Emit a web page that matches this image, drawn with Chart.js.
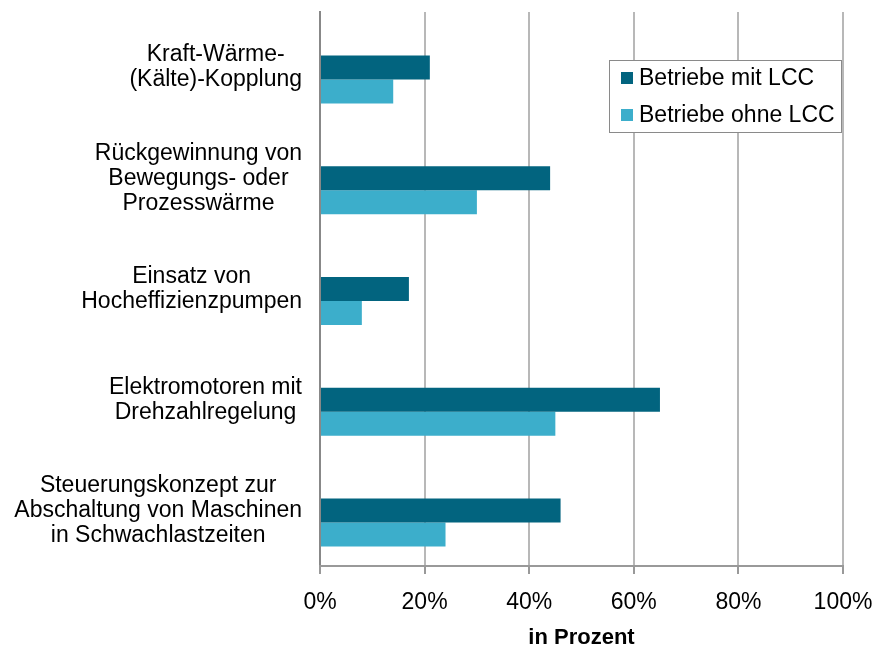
<!DOCTYPE html>
<html>
<head>
<meta charset="utf-8">
<script src="https://cdn.jsdelivr.net/npm/chart.js@4/dist/chart.umd.min.js"></script>
<style>
  html, body { margin: 0; padding: 0; background: #fff; }
  #wrap { width: 874px; height: 649px; }
</style>
</head>
<body>
<div id="wrap"><canvas id="c" width="874" height="649"></canvas></div>
<script>
// Kategorien (von oben nach unten), mehrzeilig wie im Original
const categories = [
  ["Kraft-Wärme-", "(Kälte)-Kopplung"],
  ["Rückgewinnung von", "Bewegungs- oder", "Prozesswärme"],
  ["Einsatz von", "Hocheffizienzpumpen"],
  ["Elektromotoren mit", "Drehzahlregelung"],
  ["Steuerungskonzept zur", "Abschaltung von Maschinen", "in Schwachlastzeiten"]
];
const seriesNames = ["Betriebe mit LCC", "Betriebe ohne LCC"];
const mitLCC = [21, 44, 17, 65, 46];
const ohneLCC = [14, 30, 8, 45, 24];
const xMin = 0, xMax = 100, xStep = 20;
const axisTitle = "in Prozent";

const FONT = "'Liberation Sans', Arial, sans-serif";
const darkBlue = "#02647f";
const lightBlue = "#3caecb";

// Kategorie-Beschriftungen: jede Zeile zentriert im Block, Block rechtsbündig
const catLabels = {
  id: "catLabels",
  afterDraw(chart) {
    const ctx = chart.ctx;
    const y = chart.scales.y;
    const rightEdge = chart.chartArea.left - 18;
    const lh = 25;
    ctx.save();
    ctx.font = "23px " + FONT;
    ctx.fillStyle = "#000";
    ctx.textBaseline = "middle";
    ctx.textAlign = "center";
    categories.forEach((lines, i) => {
      const cy = y.getPixelForValue(i);
      let maxW = 0;
      lines.forEach(l => { maxW = Math.max(maxW, ctx.measureText(l).width); });
      const cx = rightEdge - maxW / 2;
      lines.forEach((l, j) => {
        ctx.fillText(l, cx, cy + (j - (lines.length - 1) / 2) * lh);
      });
    });
    ctx.restore();
  }
};

// Legende im Diagrammbereich mit Rahmen
const boxLegend = {
  id: "boxLegend",
  afterDraw(chart) {
    const ctx = chart.ctx;
    const a = chart.chartArea;
    const bx = 609, by = 60, bw = a.right - 2 - bx, bh = 72;
    ctx.save();
    ctx.fillStyle = "#fff";
    ctx.fillRect(bx, by, bw, bh);
    ctx.strokeStyle = "#8a8a8a";
    ctx.lineWidth = 1;
    ctx.strokeRect(bx + 0.5, by + 0.5, bw, bh);
    ctx.font = "23px " + FONT;
    ctx.textBaseline = "middle";
    ctx.textAlign = "left";
    chart.data.datasets.filter(ds => ds.label).forEach((ds, i) => {
      const cy = by + 18 + i * 37;
      ctx.fillStyle = ds.backgroundColor;
      ctx.fillRect(bx + 12, cy - 6, 12, 12);
      ctx.fillStyle = "#000";
      ctx.fillText(ds.label, bx + 30, cy + 1);
    });
    ctx.restore();
  }
};

new Chart(document.getElementById("c"), {
  type: "bar",
  data: {
    labels: categories.map(l => l.join(" ")),
    datasets: [
      // leerer Platzhalter, damit das Balkenpaar wie im Original etwas tiefer sitzt
      { label: "", data: [], backgroundColor: "rgba(0,0,0,0)" },
      { label: seriesNames[0], data: mitLCC, backgroundColor: darkBlue },
      { label: seriesNames[1], data: ohneLCC, backgroundColor: lightBlue }
    ]
  },
  options: {
    indexAxis: "y",
    responsive: false,
    animation: false,
    devicePixelRatio: 1,
    categoryPercentage: 0.65,
    barPercentage: 1,
    layout: { padding: { top: 12, right: 31, left: 0, bottom: 0 } },
    plugins: {
      legend: { display: false },
      tooltip: { enabled: false }
    },
    scales: {
      y: {
        ticks: { display: false },
        grid: { display: false, drawTicks: false },
        border: { display: true, color: "#888", width: 2 },
        afterFit: s => { s.width = 320; }
      },
      x: {
        min: xMin,
        max: xMax,
        ticks: {
          stepSize: xStep,
          callback: v => v + "%",
          color: "#000",
          font: { family: FONT, size: 23 },
          padding: 0,
          maxRotation: 0
        },
        grid: {
          color: "#b8b8b8",
          lineWidth: 2,
          tickLength: 23,
          tickColor: "#999",
          tickBorderDash: [7, 40]
        },
        border: { color: "#999", width: 2 },
        title: {
          display: true,
          text: axisTitle,
          color: "#000",
          font: { family: FONT, size: 22, weight: "bold", lineHeight: 1 },
          padding: { top: 0, bottom: 0 }
        },
        afterFit: s => { s.height = 83; }
      }
    }
  },
  plugins: [catLabels, boxLegend]
});
</script>
</body>
</html>
